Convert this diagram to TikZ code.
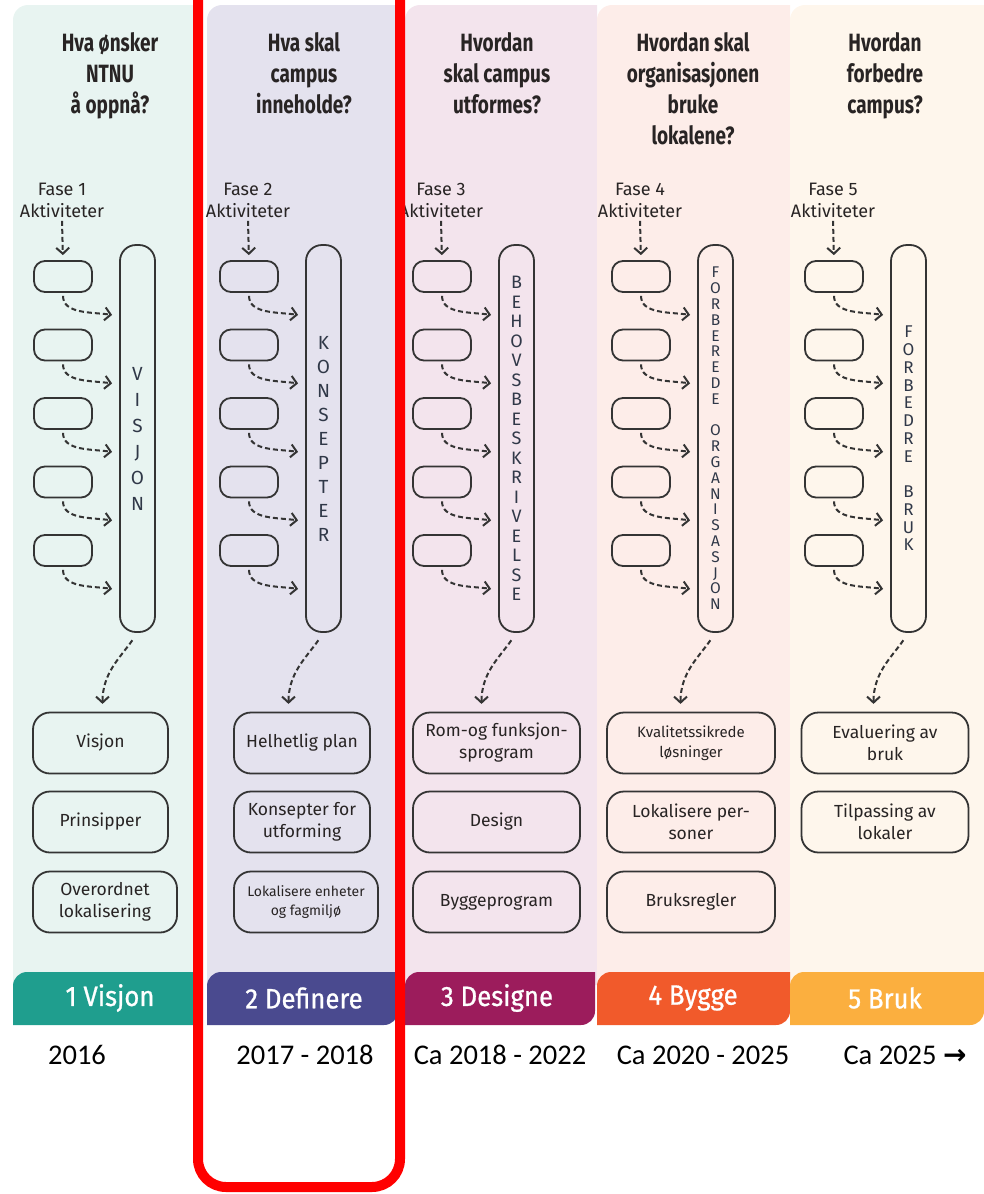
\documentclass[tikz,border=0pt]{standalone}
\usepackage{fontspec}
\setmainfont{Fira Sans}
\newfontfamily\headfont[FakeStretch=0.76]{Fira Sans}
\newfontfamily\tabfont[FakeStretch=0.92, FakeBold=0.8]{Fira Sans}
\newfontfamily\yearfont{Carlito}
\newfontfamily\symfont{DejaVu Sans}
\usepackage{xcolor}
\usetikzlibrary{arrows.meta, positioning, calc}
\definecolor{linec}{RGB}{52,52,52}
\definecolor{textc}{RGB}{40,36,36}
\definecolor{letterc}{RGB}{48,56,72}
\definecolor{pan1}{RGB}{232,244,241}
\definecolor{pan2}{RGB}{228,226,238}
\definecolor{pan3}{RGB}{243,228,237}
\definecolor{pan4}{RGB}{253,237,233}
\definecolor{pan5}{RGB}{254,246,236}
\definecolor{band1}{RGB}{31,158,142}
\definecolor{band2}{RGB}{74,74,143}
\definecolor{band3}{RGB}{156,28,92}
\definecolor{band4}{RGB}{241,90,43}
\definecolor{band5}{RGB}{251,175,63}

\begin{document}
\begin{tikzpicture}[
    x=1pt, y=1pt,
    actbox/.style={draw=linec, line width=1.8pt, rounded corners=11pt, minimum width=58pt, minimum height=31pt, inner sep=0pt},
    pillbox/.style={draw=linec, line width=1.8pt, rounded corners=16pt, minimum width=35pt, minimum height=387pt, inner sep=0pt, align=center, text=letterc},
    outbox/.style={draw=linec, line width=1.8pt, rounded corners=17pt, minimum height=61pt, align=center, text=textc, inner sep=2pt, font=\fontsize{17.5}{22}\selectfont},
    dasharrow/.style={draw=linec, line width=2pt, dash pattern=on 5pt off 3pt, -{Straight Barb[length=6pt,width=13pt]}},
    head/.style={font=\headfont\bfseries\fontsize{25}{31}\selectfont, align=center, text=textc, anchor=north},
    fase/.style={font=\fontsize{18}{22}\selectfont, align=center, text=textc},
    tablabel/.style={font=\tabfont\fontsize{28}{32}\selectfont, text=white},
    year/.style={font=\yearfont\fontsize{28.5}{30}\selectfont}
]
\useasboundingbox (0,0) rectangle (984,-1194);

% panels
\fill[pan1] (13,-985) -- (13,-20) arc[start angle=180, end angle=90, radius=15] -- (200,-5) -- (200,-985) -- cycle;
\fill[pan2] (207,-985) -- (207,-20) arc[start angle=180, end angle=90, radius=15] -- (402,-5) -- (402,-985) -- cycle;
\fill[pan3] (405,-985) -- (405,-20) arc[start angle=180, end angle=90, radius=15] -- (597,-5) -- (597,-985) -- cycle;
\fill[pan4] (597,-985) -- (597,-20) arc[start angle=180, end angle=90, radius=15] -- (790,-5) -- (790,-985) -- cycle;
\fill[pan5] (790,-985) -- (790,-20) arc[start angle=180, end angle=90, radius=15] -- (984,-5) -- (984,-985) -- cycle;

% bottom tabs
\fill[band1] (13,-1025) -- (13,-986) arc[start angle=180, end angle=90, radius=14] -- (200,-972) -- (200,-1025) -- cycle;
\fill[band2] (207,-1025) -- (207,-986) arc[start angle=180, end angle=90, radius=14] -- (398,-972) -- (398,-1011) arc[start angle=0, end angle=-90, radius=14] -- cycle;
\fill[band3] (405,-1025) -- (405,-986) arc[start angle=180, end angle=90, radius=14] -- (595,-972) -- (595,-1011) arc[start angle=0, end angle=-90, radius=14] -- cycle;
\fill[band4] (597,-1025) -- (597,-986) arc[start angle=180, end angle=90, radius=14] -- (790,-972) -- (790,-1011) arc[start angle=0, end angle=-90, radius=14] -- cycle;
\fill[band5] (790,-1025) -- (790,-986) arc[start angle=180, end angle=90, radius=14] -- (984,-972) -- (984,-1011) arc[start angle=0, end angle=-90, radius=14] -- cycle;

\node[tablabel] (tab1) at (110,-998) {1 Visjon};
\node[tablabel] (tab2) at (304,-998) {2 Definere};
\node[tablabel] (tab3) at (497,-998) {3 Designe};
\node[tablabel] (tab4) at (693,-998) {4 Bygge};
\node[tablabel] (tab5) at (885,-998) {5 Bruk};

% questions
\node[head] (head1) at (110,-29) {Hva ønsker\\NTNU\\å oppnå?};
\node[head] (head2) at (304,-29) {Hva skal\\campus\\inneholde?};
\node[head] (head3) at (497,-29) {Hvordan\\skal campus\\utformes?};
\node[head] (head4) at (693,-29) {Hvordan skal\\organisasjonen\\bruke\\lokalene?};
\node[head] (head5) at (885,-29) {Hvordan\\forbedre\\campus?};

% activities and pillars
\foreach \c/\o/\word/\fs/\pitch in {
    1/0/{V\\I\\S\\J\\O\\N}/19/26,
    2/186/{K\\O\\N\\S\\E\\P\\T\\E\\R}/19/24,
    3/379/{B\\E\\H\\O\\V\\S\\B\\E\\S\\K\\R\\I\\V\\E\\L\\S\\E}/18/19.5,
    4/578/{F\\O\\R\\B\\E\\R\\E\\D\\E\\~\\O\\R\\G\\A\\N\\I\\S\\A\\S\\J\\O\\N}/15.5/15.8,
    5/771/{F\\O\\R\\B\\E\\D\\R\\E\\~\\B\\R\\U\\K}/17/17.75} {
  \node[fase] (fase\c) at (62+\o,-200) {Fase \c\\Aktiviteter};
  \node[pillbox, font=\fontsize{\fs}{\pitch}\selectfont] (pill\c) at (137.5+\o,-438.5) {\word};
  \foreach \k in {1,...,5} {
    \node[actbox] (a\c\k) at (63+\o,-208-68.5*\k) {};
    \coordinate (e\c\k) at ($(pill\c.west |- a\c\k.south)+(-7,-22)$);
    \draw[dasharrow, shorten <=3pt] (a\c\k.south) to[out=-90, in=172] (e\c\k);
  }
  \draw[dasharrow, shorten >=5pt] (fase\c.south) -- (a\c1.north);
  \coordinate (t\c) at ($(pill\c.south)+(-35,-71)$);
  \draw[dasharrow, shorten <=9pt] (pill\c.south) to[out=-125, in=90] (t\c);
}

% results
\node[outbox, minimum width=135pt] (o11) at (100.5,-743) {Visjon};
\node[outbox, minimum width=135pt] (o12) at (100.5,-822) {Prinsipper};
\node[outbox, minimum width=144pt] (o13) at (105,-902) {Overordnet\\lokalisering};
\node[outbox, minimum width=136pt] (o21) at (302,-743) {Helhetlig plan};
\node[outbox, minimum width=136pt] (o22) at (302,-822) {Konsepter for\\utforming};
\node[outbox, minimum width=144pt, font=\fontsize{14}{19}\selectfont] (o23) at (306,-902) {Lokalisere enheter\\og fagmiljø};
\node[outbox, minimum width=167pt] (o31) at (496.5,-743) {Rom-og funksjon-\\sprogram};
\node[outbox, minimum width=167pt] (o32) at (496.5,-822) {Design};
\node[outbox, minimum width=167pt] (o33) at (496.5,-902) {Byggeprogram};
\node[outbox, minimum width=168pt, font=\fontsize{15}{20}\selectfont] (o41) at (691,-743) {Kvalitetssikrede\\løsninger};
\node[outbox, minimum width=168pt] (o42) at (691,-822) {Lokalisere per-\\soner};
\node[outbox, minimum width=168pt] (o43) at (691,-902) {Bruksregler};
\node[outbox, minimum width=167pt] (o51) at (885,-743) {Evaluering av\\bruk};
\node[outbox, minimum width=167pt] (o52) at (885,-822) {Tilpassing av\\lokaler};

% years
\node[year] (year1) at (77,-1055) {2016};
\node[year] (year2) at (305,-1055) {2017 - 2018};
\node[year] (year3) at (500,-1055) {Ca 2018 - 2022};
\node[year] (year4) at (703,-1055) {Ca 2020 - 2025};
\node[year] (year5) at (905,-1055) {Ca 2025 {\symfont\bfseries\fontsize{28}{30}\selectfont →}};

% highlight
\draw[red, line width=10pt, rounded corners=28pt] (198,10) -- (198,-1187) -- (400,-1187) -- (400,10);
\end{tikzpicture}
\end{document}
